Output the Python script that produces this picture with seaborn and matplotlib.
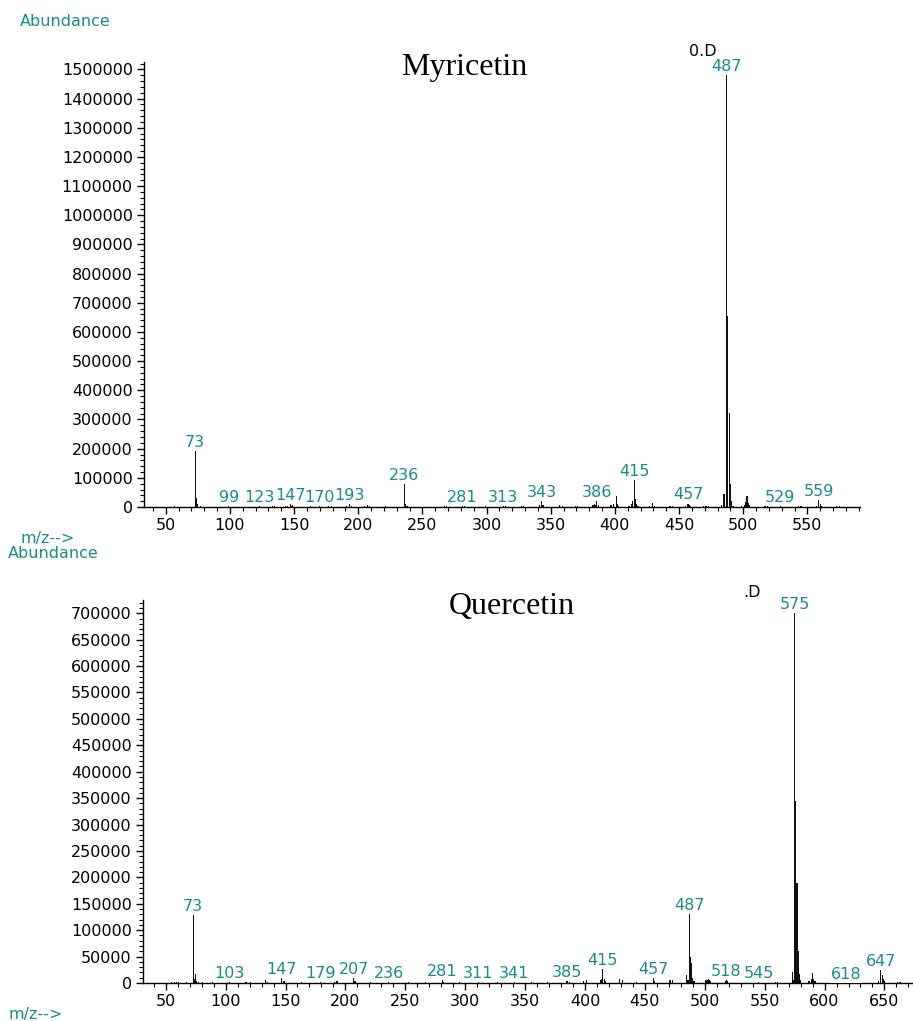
import numpy as np
import pandas as pd
import matplotlib
matplotlib.use("Agg")
import matplotlib.pyplot as plt
from matplotlib.ticker import MultipleLocator
import seaborn as sns

# ---------------- Myricetin spectrum (m/z, abundance) ----------------
myr_mz = [55, 57, 59, 61, 63, 67, 73, 74, 75, 77, 79, 83, 89, 99, 103, 115, 123,
          133, 135, 143, 145, 147, 148, 149, 157, 163, 170, 177, 179, 191, 193,
          195, 205, 207, 209, 221, 231, 236, 237, 238, 249, 253, 267, 269, 281,
          283, 295, 299, 313, 315, 327, 329, 341, 343, 344, 357, 359, 369, 371,
          383, 384, 385, 386, 387, 397, 399, 401, 402, 403, 411, 413, 414, 415,
          416, 417, 418, 427, 429, 431, 443, 445, 455, 457, 458, 459, 469, 471,
          473, 483, 485, 487, 488, 489, 490, 491, 492, 499, 501, 502, 503, 504,
          505, 517, 519, 529, 543, 545, 557, 559, 560, 561, 573, 575, 577, 585]
myr_ab = [1500, 2000, 1500, 1000, 1000, 1500, 192000, 30000, 12000, 3000, 1500,
          1500, 1500, 2500, 1500, 1500, 2500, 4000, 2000, 3000, 4000, 9000, 4000,
          6000, 1500, 2000, 2500, 2000, 2000, 5000, 9000, 3000, 3000, 7000, 2500,
          2000, 1500, 80000, 12000, 4000, 1500, 1500, 2500, 2000, 4000, 2000,
          1500, 2000, 3000, 2000, 2500, 2000, 8000, 20000, 6000, 7000, 3000, 2500,
          2000, 6000, 10000, 7000, 20000, 8000, 8000, 10000, 38000, 12000, 5000,
          5000, 12000, 22000, 93000, 27000, 10000, 4000, 4000, 14000, 5000, 3000,
          2500, 5000, 12000, 8000, 3000, 3000, 5000, 3000, 6000, 45000, 1480000,
          655000, 321000, 79000, 21000, 5000, 4000, 8000, 18000, 38000, 15000,
          8000, 2500, 2000, 2500, 2000, 2000, 5000, 24000, 10000, 4000, 2000, 2500,
          1500, 1500]
myr_labels = [559, 529, 487, 457, 415, 386, 343, 313, 281, 236, 193, 170, 147,
              123, 99, 73]

# ---------------- Quercetin spectrum (m/z, abundance) ----------------
que_mz = [55, 57, 59, 61, 67, 73, 74, 75, 76, 77, 81, 89, 103, 117, 121, 133, 135,
          147, 148, 149, 163, 179, 191, 193, 207, 208, 221, 236, 253, 267, 281,
          282, 295, 311, 327, 341, 355, 369, 385, 387, 399, 401, 413, 414, 415,
          416, 417, 429, 431, 443, 457, 458, 471, 473, 485, 486, 487, 488, 489,
          490, 491, 501, 502, 503, 504, 505, 517, 518, 519, 545, 559, 561, 573,
          574, 575, 576, 577, 578, 579, 580, 587, 589, 590, 591, 592, 618, 645,
          647, 648, 649, 650, 661, 663]
que_ab = [1500, 2000, 1500, 1000, 1000, 129000, 8000, 18000, 3000, 2000, 1000,
          1000, 2000, 1000, 1500, 5000, 2000, 9500, 3000, 3000, 1500, 2000, 2500,
          3000, 10000, 3000, 1500, 2000, 1500, 2000, 6000, 2500, 1500, 2000, 1500,
          2500, 1500, 1500, 3000, 2000, 4000, 5000, 6000, 8000, 26000, 8000, 4000,
          7000, 5000, 2000, 9000, 4000, 5000, 6000, 15000, 6000, 130000, 50000,
          38000, 9000, 3000, 5000, 6000, 7000, 6000, 4000, 4000, 6000, 3000, 2000,
          2000, 1500, 21000, 6000, 700000, 345000, 190000, 60000, 17000, 5000,
          3000, 8000, 19000, 8000, 3000, 500, 4000, 25000, 15000, 8000, 3000,
          2000, 1500]
que_labels = [73, 103, 147, 207, 179, 236, 281, 311, 341, 385, 415, 457, 487,
              518, 545, 575, 618, 647]

# ---------------- axis ticks ----------------
myr_yticks = list(range(0, 1500001, 100000))
que_yticks = list(range(0, 700001, 50000))
myr_xticks = list(range(50, 551, 50))
que_xticks = list(range(50, 651, 50))

TEAL = "#178c8c"
FS = 11.5

sns.set_theme(style="ticks")
plt.rcParams["font.family"] = ["DejaVu Sans"]
plt.rcParams["axes.linewidth"] = 1.0

fig = plt.figure(figsize=(9.13, 10.21), dpi=100)
fig.patch.set_facecolor("white")

ax_top = fig.add_axes([0.1577, 0.5034, 0.7842, 0.4358])
ax_bot = fig.add_axes([0.1566, 0.0372, 0.8423, 0.3751])


def draw_spectrum(ax, mz, ab, labels, xlim, ylim, yticks, xticks, yminor):
    df = pd.DataFrame({"mz": mz, "abundance": ab})
    sns.histplot(data=df, x="mz", weights="abundance", discrete=True,
                 shrink=0.9, color="#111111", alpha=1.0, linewidth=0,
                 edgecolor=None, ax=ax)
    ax.set_xlim(*xlim)
    ax.set_ylim(*ylim)
    ax.set_xlabel("")
    ax.set_ylabel("")
    ax.set_yticks(yticks)
    ax.set_yticklabels([str(v) for v in yticks])
    ax.set_xticks(xticks)
    ax.set_xticklabels([str(v) for v in xticks])
    ax.xaxis.set_minor_locator(MultipleLocator(10))
    ax.yaxis.set_minor_locator(MultipleLocator(yminor))
    ax.tick_params(which="major", direction="out", length=5, width=1,
                   labelsize=FS, colors="black", pad=3)
    ax.tick_params(which="minor", direction="out", length=3, width=0.8,
                   colors="black")
    for side in ("top", "right"):
        ax.spines[side].set_visible(False)
    for side in ("left", "bottom"):
        ax.spines[side].set_color("black")
    ax.set_facecolor("white")

    lookup = dict(zip(mz, ab))
    for m in labels:
        ax.annotate(str(m), xy=(m, lookup.get(m, 0)), xytext=(0, 0.8),
                    textcoords="offset points", ha="center", va="bottom",
                    fontsize=FS, color=TEAL, clip_on=False, zorder=5,
                    bbox=dict(boxstyle="square,pad=0.06", fc="white",
                              ec="none"))


draw_spectrum(ax_top, myr_mz, myr_ab, myr_labels, (33, 591), (0, 1525000),
              myr_yticks, myr_xticks, 20000)
draw_spectrum(ax_bot, que_mz, que_ab, que_labels, (31, 673), (0, 725000),
              que_yticks, que_xticks, 10000)

# compound names
fig.text(0.508, 0.9334, "Myricetin", ha="center", va="center", fontsize=23,
         family=["Liberation Serif", "DejaVu Serif"], color="black")
fig.text(0.561, 0.4055, "Quercetin", ha="center", va="center", fontsize=23,
         family=["Liberation Serif", "DejaVu Serif"], color="black")

# data-file suffixes
fig.text(0.770, 1 - 52 / 1021, "0.D", ha="center", va="center", fontsize=FS,
         color="black")
fig.text(0.824, 0.420, ".D", ha="center", va="center", fontsize=FS,
         color="black")

# axis captions
fig.text(20 / 913, 1 - 21 / 1021, "Abundance", ha="left", va="center",
         fontsize=11.5, color=TEAL)
fig.text(20 / 913, 1 - 539 / 1021, "m/z-->", ha="left", va="center",
         fontsize=11.5, color=TEAL)
fig.text(8 / 913, 1 - 554 / 1021, "Abundance", ha="left", va="center",
         fontsize=11.5, color=TEAL)
fig.text(8 / 913, 1 - 1014 / 1021, "m/z-->", ha="left", va="center",
         fontsize=11.5, color=TEAL)

fig.savefig("out.png", dpi=100, facecolor="white")
